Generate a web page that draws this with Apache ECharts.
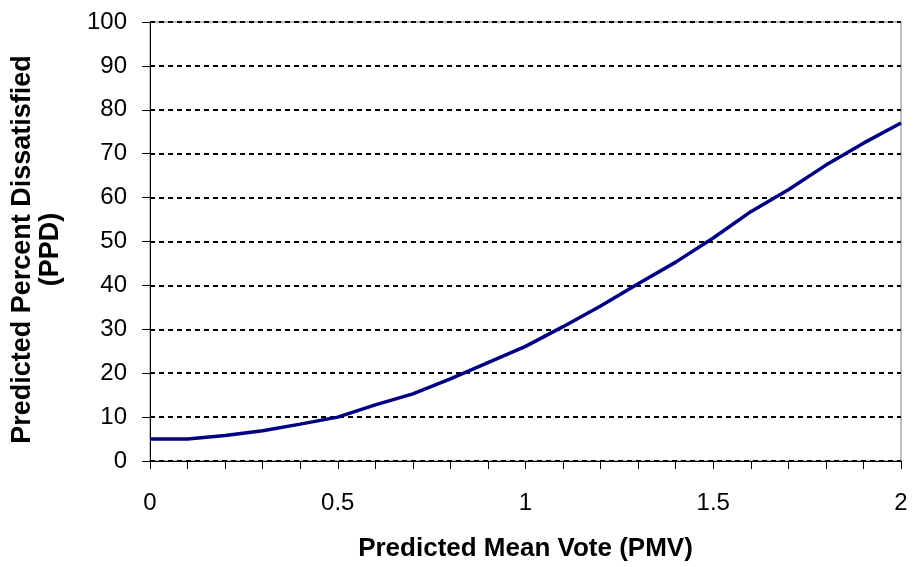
<!DOCTYPE html>
<html>
<head>
<meta charset="utf-8">
<script src="https://cdn.jsdelivr.net/npm/echarts@6/dist/echarts.min.js"></script>
<style>
  html, body { margin: 0; padding: 0; background: #fff; }
  #chart { width: 913px; height: 567px; }
</style>
</head>
<body>
<div id="chart"></div>
<script>
// Predicted Mean Vote (PMV) sample points
const pmv = [0, 0.1, 0.2, 0.3, 0.4, 0.5, 0.6, 0.7, 0.8, 0.9, 1.0,
             1.1, 1.2, 1.3, 1.4, 1.5, 1.6, 1.7, 1.8, 1.9, 2.0];
// Predicted Percent Dissatisfied (PPD) at each PMV point
const ppd = [5.0, 5.0, 5.8, 6.9, 8.4, 10.0, 12.8, 15.3, 18.7, 22.4, 26.1,
             30.6, 35.3, 40.4, 45.3, 50.8, 56.8, 61.8, 67.4, 72.4, 77.0];

const xTitle = 'Predicted Mean Vote (PMV)';
const yTitle = 'Predicted Percent Dissatisfied\n(PPD)';

const font = '"Liberation Sans", Arial, sans-serif';

const chart = echarts.init(document.getElementById('chart'), null, { renderer: 'canvas' });

chart.setOption({
  animation: false,
  backgroundColor: '#ffffff',
  grid: {
    left: 150, right: 12, top: 22, bottom: 105,
    show: true,
    borderColor: '#808080',
    borderWidth: 1,
    backgroundColor: 'transparent'
  },
  xAxis: {
    type: 'value',
    min: 0, max: 2, interval: 0.5,
    name: xTitle,
    nameLocation: 'middle',
    nameGap: 75,
    nameTextStyle: { fontFamily: font, fontSize: 26, fontWeight: 'bold', color: '#000' },
    axisLine: { show: true, lineStyle: { color: '#000', width: 1 } },
    axisTick: { show: true, length: 8, lineStyle: { color: '#000' } },
    minorTick: { show: true, splitNumber: 5, length: 8, lineStyle: { color: '#000' } },
    axisLabel: {
      fontFamily: font, fontSize: 24, color: '#000', margin: 30,
      formatter: v => String(Math.round(v * 10) / 10)
    },
    splitLine: { show: false }
  },
  yAxis: {
    type: 'value',
    min: 0, max: 100, interval: 10,
    name: yTitle,
    nameLocation: 'middle',
    nameGap: 85,
    nameRotate: 90,
    nameTextStyle: {
      fontFamily: font, fontSize: 27, fontWeight: 'bold', color: '#000',
      lineHeight: 28, align: 'center', padding: [0, 16, 0, 0]
    },
    axisLine: { show: true, lineStyle: { color: '#000', width: 1 } },
    axisTick: { show: true, length: 8, lineStyle: { color: '#000' } },
    axisLabel: { fontFamily: font, fontSize: 24, color: '#000', margin: 23 },
    splitLine: { show: true, lineStyle: { color: '#000', width: 2, type: [5, 4] } }
  },
  series: [{
    type: 'line',
    data: pmv.map((x, i) => [x, ppd[i]]),
    showSymbol: false,
    smooth: false,
    lineStyle: { color: '#000080', width: 3.5 },
    itemStyle: { color: '#000080' }
  }]
});
</script>
</body>
</html>
